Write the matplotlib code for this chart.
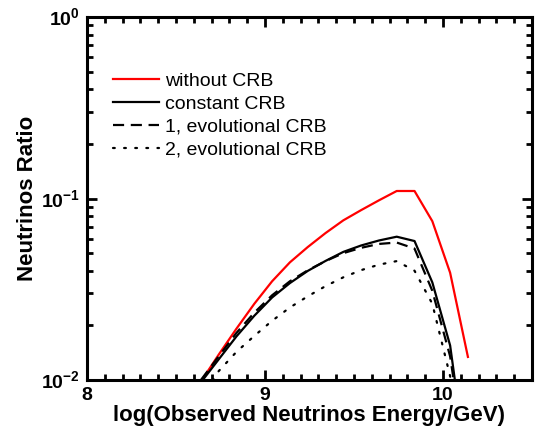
import numpy as np
import matplotlib
matplotlib.use("Agg")
import matplotlib.pyplot as plt
from matplotlib.ticker import FixedLocator, FixedFormatter, MultipleLocator, LogLocator, NullFormatter

plt.rcParams['font.family'] = ['Liberation Sans', 'DejaVu Sans']
plt.rcParams['mathtext.fontset'] = 'custom'
plt.rcParams['mathtext.rm'] = 'Liberation Sans'
plt.rcParams['mathtext.bf'] = 'Liberation Sans:bold'

# log(E/GeV) grid
energy = [8.64, 8.74, 8.84, 8.94, 9.04, 9.14, 9.24, 9.34, 9.44, 9.54,
          9.64, 9.74, 9.84, 9.94, 10.04, 10.14]

without_crb = [0.0098, 0.0138, 0.0192, 0.0263, 0.0350, 0.0445, 0.0540, 0.0645,
               0.0758, 0.0863, 0.0977, 0.110, 0.110, 0.075, 0.039, 0.0134]
constant_crb = [0.0097, 0.0130, 0.0174, 0.0226, 0.0285, 0.0342, 0.0399, 0.0453,
                0.0508, 0.0551, 0.0587, 0.0616, 0.0583, 0.0345, 0.0155, 0.003]
evol1_crb = [0.0100, 0.0135, 0.0182, 0.0235, 0.0293, 0.0350, 0.0402, 0.0452,
             0.0500, 0.0535, 0.0562, 0.0572, 0.0530, 0.0310, 0.0135, 0.003]
evol2_crb = [0.0078, 0.0112, 0.0143, 0.0175, 0.0212, 0.0251, 0.0289, 0.0329,
             0.0368, 0.0403, 0.0432, 0.0452, 0.0400, 0.0263, 0.0105, 0.003]

labels = ['without CRB', 'constant CRB', '1, evolutional CRB', '2, evolutional CRB']

fig = plt.figure(figsize=(5.35, 4.33), dpi=100)
ax = fig.add_axes([0.1626, 0.1224, 0.8318, 0.8383])

lw = 1.6
ax.plot(energy, without_crb, color='#ff0000', lw=lw, label=labels[0])
ax.plot(energy, constant_crb, color='black', lw=lw, label=labels[1])
ax.plot(energy, evol1_crb, color='black', lw=lw, dashes=(5, 3), label=labels[2])
ax.plot(energy, evol2_crb, color='black', lw=lw, dashes=(0.8, 4.2),
        dash_capstyle='round', label=labels[3])

ax.set_yscale('log')
ax.set_xlim(8, 10.5)
ax.set_ylim(1e-2, 1)

ax.xaxis.set_major_locator(FixedLocator([8, 9, 10]))
ax.xaxis.set_major_formatter(FixedFormatter(['8', '9', '10']))
ax.xaxis.set_minor_locator(MultipleLocator(0.1))
ax.yaxis.set_major_locator(FixedLocator([1e-2, 1e-1, 1]))
ax.yaxis.set_major_formatter(FixedFormatter([r'$\mathbf{10}^{\mathbf{-2}}$',
                                             r'$\mathbf{10}^{\mathbf{-1}}$',
                                             r'$\mathbf{10}^{\mathbf{0}}$']))
ax.yaxis.set_minor_locator(LogLocator(base=10, subs=np.arange(2, 10)))
ax.yaxis.set_minor_formatter(NullFormatter())

ax.tick_params(which='both', direction='in', top=True, right=True, width=2)
ax.tick_params(which='major', length=7, labelsize=14, pad=5)
ax.tick_params(which='minor', length=4)
for t in ax.get_xticklabels():
    t.set_fontweight('bold')
for s in ax.spines.values():
    s.set_linewidth(2.2)

ax.set_xlabel('log(Observed Neutrinos Energy/GeV)', fontsize=16, fontweight='bold', labelpad=1)
ax.set_ylabel('Neutrinos Ratio', fontsize=16, fontweight='bold', labelpad=2)

ax.legend(loc='upper left', bbox_to_anchor=(0.041, 0.87), frameon=False, fontsize=14,
          handlelength=2.35, handletextpad=0.3, labelspacing=0.28, borderaxespad=0)

fig.savefig('out.png', dpi=100)
